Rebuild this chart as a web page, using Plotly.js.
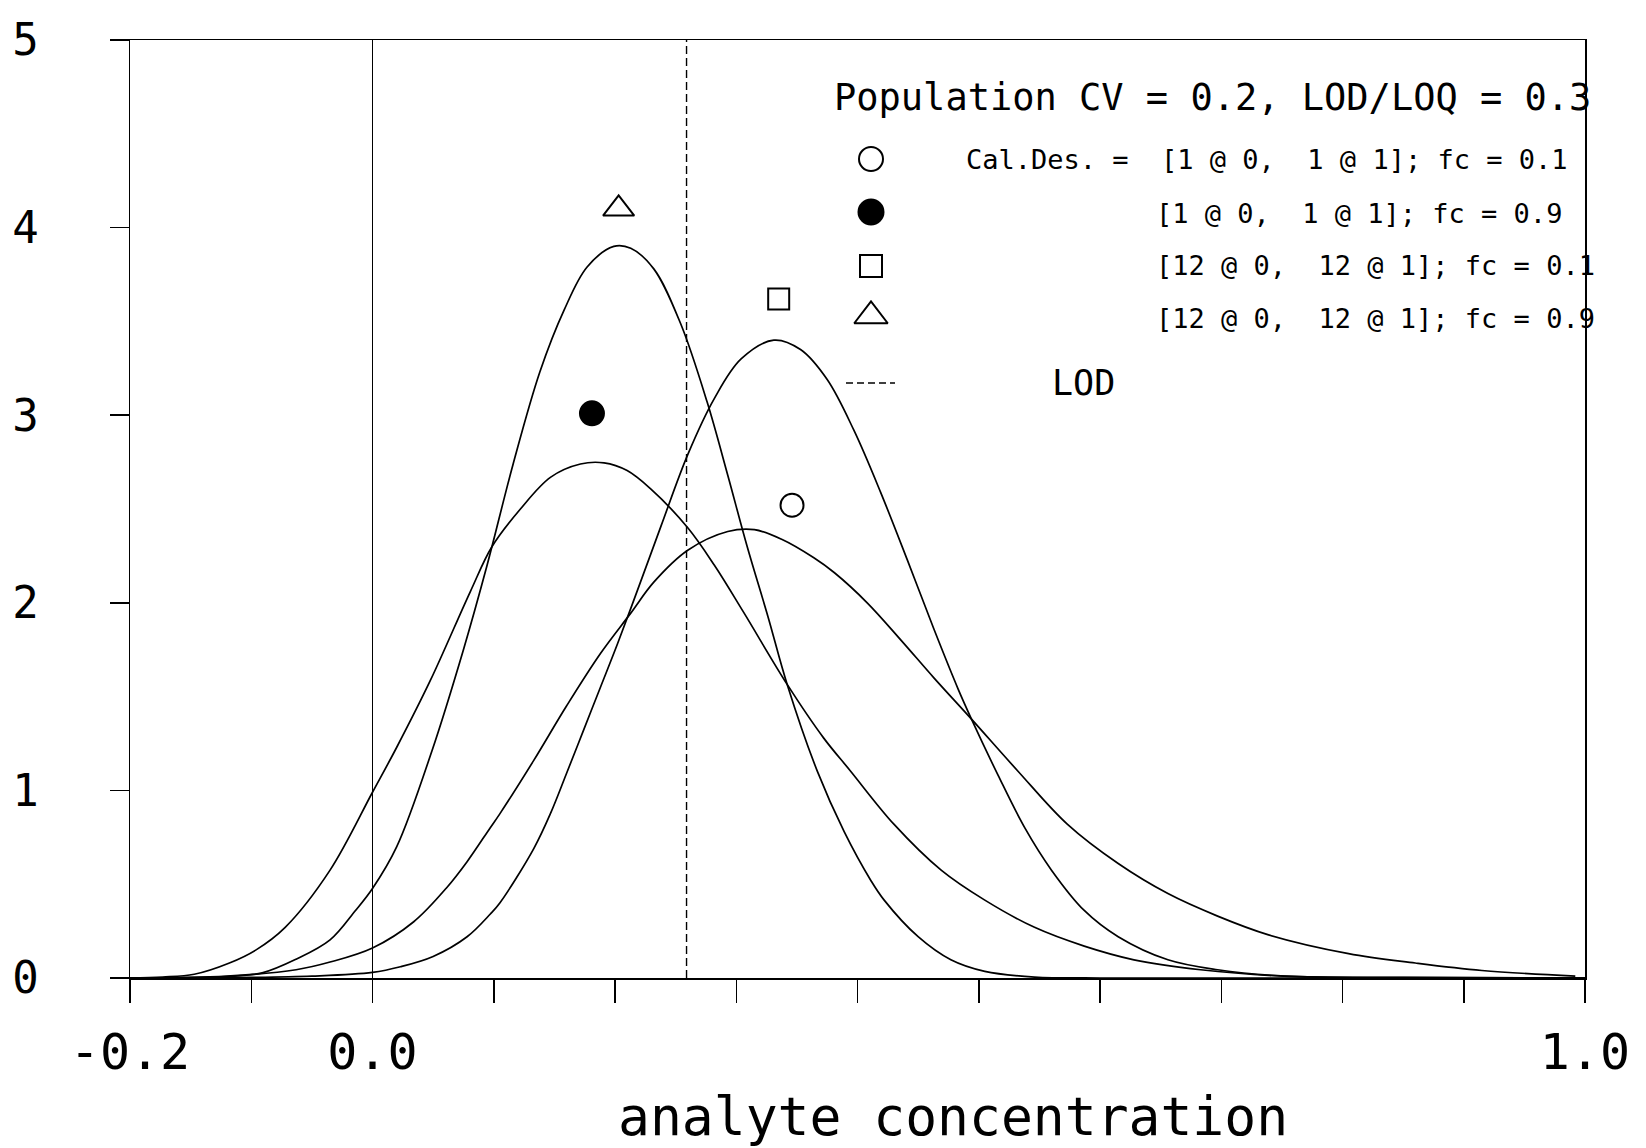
<!DOCTYPE html>
<html>
<head>
<meta charset="utf-8">
<script src="https://cdn.plot.ly/plotly-3.0.1.min.js"></script>
<style>
  html, body { margin: 0; padding: 0; background: #ffffff; }
  #chart { width: 1646px; height: 1148px; }
</style>
</head>
<body>
<div id="chart"></div>
<script>
// ---------------- data ----------------
const xTickVals = [-0.2, -0.1, 0.0, 0.1, 0.2, 0.3, 0.4, 0.5, 0.6, 0.7, 0.8, 0.9, 1.0];
const xTickText = ['-0.2', '', '0.0', '', '', '', '', '', '', '', '', '', '1.0'];
const yTickVals = [0, 1, 2, 3, 4, 5];
const yTickText = ['0', '1', '2', '3', '4', '5'];

const titleText = 'Population CV = 0.2, LOD/LOQ = 0.3';
const xTitleText = 'analyte concentration';
const legendTexts = [
  'Cal.Des. =  [1 @ 0,  1 @ 1]; fc = 0.1',
  '[1 @ 0,  1 @ 1]; fc = 0.9',
  '[12 @ 0,  12 @ 1]; fc = 0.1',
  '[12 @ 0,  12 @ 1]; fc = 0.9'
];
const lodLabel = 'LOD';
const lodX = 0.259;

// open circle : [1 @ 0, 1 @ 1]; fc = 0.1
const circOpenX = [-0.2, -0.12, -0.063, -0.035, 0.0, 0.034, 0.061, 0.078, 0.097, 0.105, 0.133, 0.160, 0.188, 0.213, 0.232, 0.260, 0.293, 0.315, 0.337, 0.364, 0.381, 0.408, 0.436, 0.463, 0.494, 0.532, 0.573, 0.615, 0.656, 0.697, 0.739, 0.805, 0.860, 0.915, 0.992];
const circOpenY = [0, 0.01, 0.044, 0.085, 0.16, 0.30, 0.48, 0.62, 0.80, 0.875, 1.16, 1.45, 1.73, 1.945, 2.11, 2.28, 2.38, 2.39, 2.34, 2.24, 2.16, 2.00, 1.80, 1.60, 1.38, 1.105, 0.82, 0.61, 0.45, 0.33, 0.23, 0.13, 0.08, 0.04, 0.01];

// filled circle : [1 @ 0, 1 @ 1]; fc = 0.9
const circFillX = [-0.2, -0.173, -0.147, -0.118, -0.096, -0.072, -0.035, 0.0, 0.020, 0.048, 0.0807, 0.0986, 0.122, 0.147, 0.1715, 0.191, 0.210, 0.229, 0.260, 0.282, 0.306, 0.342, 0.372, 0.394, 0.430, 0.469, 0.505, 0.546, 0.587, 0.628, 0.683, 0.752, 0.85, 1.0];
const circFillY = [0, 0.005, 0.02, 0.08, 0.15, 0.27, 0.575, 0.99, 1.23, 1.59, 2.06, 2.30, 2.50, 2.67, 2.74, 2.746, 2.705, 2.61, 2.40, 2.20, 1.95, 1.565, 1.28, 1.105, 0.82, 0.575, 0.415, 0.27, 0.17, 0.097, 0.044, 0.01, 0.003, 0];

// square : [12 @ 0, 12 @ 1]; fc = 0.1
const squareX = [-0.2, -0.1, -0.05, 0.0, 0.023, 0.050, 0.078, 0.097, 0.105, 0.133, 0.147, 0.160, 0.174, 0.188, 0.202, 0.221, 0.238, 0.260, 0.282, 0.304, 0.331, 0.353, 0.375, 0.397, 0.419, 0.441, 0.463, 0.483, 0.494, 0.516, 0.538, 0.560, 0.587, 0.615, 0.656, 0.697, 0.752, 0.85, 1.0];
const squareY = [0, 0.003, 0.01, 0.03, 0.06, 0.115, 0.22, 0.34, 0.40, 0.69, 0.88, 1.09, 1.32, 1.55, 1.78, 2.11, 2.41, 2.79, 3.09, 3.30, 3.40, 3.35, 3.19, 2.92, 2.59, 2.23, 1.86, 1.54, 1.38, 1.08, 0.80, 0.575, 0.36, 0.22, 0.097, 0.044, 0.01, 0.002, 0];

// triangle : [12 @ 0, 12 @ 1]; fc = 0.9
const triX = [-0.2, -0.15, -0.12, -0.091, -0.063, -0.035, -0.014, 0.0, 0.020, 0.049, 0.075, 0.0945, 0.116, 0.138, 0.158, 0.177, 0.199, 0.213, 0.232, 0.254, 0.276, 0.293, 0.309, 0.326, 0.342, 0.367, 0.389, 0.411, 0.422, 0.450, 0.477, 0.505, 0.546, 0.60, 0.70, 0.80, 0.90, 1.0];
const triY = [0, 0.002, 0.008, 0.027, 0.10, 0.203, 0.36, 0.477, 0.70, 1.21, 1.75, 2.20, 2.74, 3.23, 3.56, 3.79, 3.90, 3.89, 3.78, 3.49, 3.07, 2.68, 2.30, 1.93, 1.565, 1.10, 0.78, 0.52, 0.415, 0.22, 0.097, 0.035, 0.005, 0, 0, 0, 0, 0];

// curve label symbols (open circle, filled circle, square, triangle)
const labelX = [0.346, 0.181, 0.335, 0.203];
const labelY = [2.52, 3.01, 3.62, 4.10];

// ---------------- layout helpers ----------------
const L = 130, R = 1585, T = 40, B = 978;
const px = X => (X - L) / (R - L);
const py = Y => (B - Y) / (B - T);
const FONT = 'DejaVu Sans Mono, Liberation Mono, monospace';
const symbols = ['circle-open', 'circle', 'square-open', 'triangle-up-open'];
const symSizes = [23, 24, 21, 27];

function curve(x, y) {
  return {
    x: x, y: y, type: 'scatter', mode: 'lines',
    line: {color: '#000', width: 1.7, shape: 'spline', smoothing: 1.0},
    hoverinfo: 'skip', showlegend: false
  };
}

const traces = [
  curve(circOpenX, circOpenY),
  curve(circFillX, circFillY),
  curve(squareX, squareY),
  curve(triX, triY),
  {
    x: [lodX, lodX], y: [0, 5], type: 'scatter', mode: 'lines',
    line: {color: '#000', width: 1.4, dash: '8px,4px'},
    hoverinfo: 'skip', showlegend: false
  },
  {
    x: labelX, y: labelY, type: 'scatter', mode: 'markers',
    marker: {symbol: symbols, size: symSizes, color: '#000', opacity: 1, line: {color: '#000', width: 2}},
    cliponaxis: false, hoverinfo: 'skip', showlegend: false
  },
  // hand-drawn legend symbols (positioned on an overlay 0..1 axis pair)
  {
    x: [px(871), px(871), px(871), px(871)],
    y: [py(159), py(212), py(266), py(316)],
    xaxis: 'x2', yaxis: 'y2', type: 'scatter', mode: 'markers',
    marker: {symbol: symbols, size: [24, 25, 22, 29], color: '#000', opacity: 1, line: {color: '#000', width: 2}},
    cliponaxis: false, hoverinfo: 'skip', showlegend: false
  },
  {
    x: [px(846), px(895)], y: [py(383), py(383)],
    xaxis: 'x2', yaxis: 'y2', type: 'scatter', mode: 'lines',
    line: {color: '#000', width: 1.4, dash: '7px,4px'},
    cliponaxis: false, hoverinfo: 'skip', showlegend: false
  }
];

const annText = (text, X, Y, size, anchor) => ({
  text: text.replace(/  /g, '\u00A0 '), xref: 'paper', yref: 'paper',
  x: px(X), y: py(Y), xanchor: anchor || 'left', yanchor: 'middle',
  showarrow: false, font: {family: FONT, size: size, color: '#000'}
});

const layout = {
  width: 1646, height: 1148,
  margin: {l: L, r: 1646 - R, t: T, b: 1148 - B, pad: 0},
  paper_bgcolor: '#fff', plot_bgcolor: '#fff',
  showlegend: false,
  font: {family: FONT, color: '#000'},
  xaxis: {
    range: [-0.2, 1.0], autorange: false,
    tickmode: 'array', tickvals: xTickVals, ticktext: xTickText,
    ticks: 'outside', ticklen: 23, tickwidth: 1.5, tickcolor: '#000',
    showline: true, linecolor: '#000', linewidth: 1.5, mirror: true,
    showgrid: false, zeroline: true, zerolinecolor: '#000', zerolinewidth: 1.2,
    tickfont: {family: FONT, size: 50, color: '#000'},
    ticklabelstandoff: 6
  },
  yaxis: {
    range: [0, 5], autorange: false,
    tickmode: 'array', tickvals: yTickVals, ticktext: yTickText,
    ticks: 'outside', ticklen: 19, tickwidth: 1.5, tickcolor: '#000',
    showline: true, linecolor: '#000', linewidth: 1.5, mirror: true,
    showgrid: false, zeroline: false,
    tickfont: {family: FONT, size: 44, color: '#000'},
    ticklabelstandoff: 62
  },
  xaxis2: {overlaying: 'x', anchor: 'y2', range: [0, 1], visible: false, fixedrange: true},
  yaxis2: {overlaying: 'y', anchor: 'x2', range: [0, 1], visible: false, fixedrange: true},
  annotations: [
    annText(titleText, 832, 97, 37),
    annText(legendTexts[0], 964, 159, 27),
    annText(legendTexts[1], 1154, 213, 27),
    annText(legendTexts[2], 1154, 265, 27),
    annText(legendTexts[3], 1154, 318, 27),
    annText(lodLabel, 1050, 383, 35),
    annText(xTitleText, 953, 1116, 53, 'center')
  ]
};

Plotly.newPlot('chart', traces, layout, {displayModeBar: false, staticPlot: true});
</script>
</body>
</html>
